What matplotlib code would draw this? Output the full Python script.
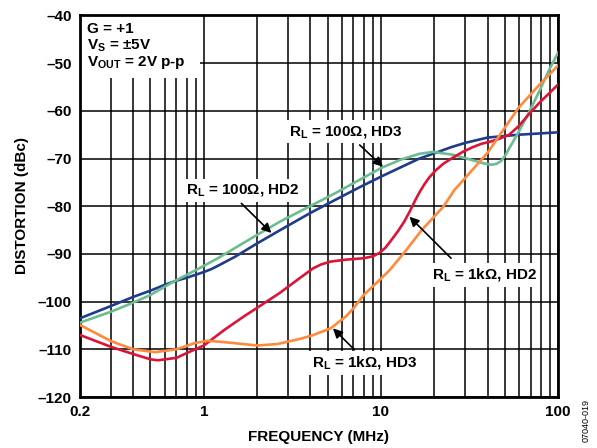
import matplotlib
matplotlib.use("Agg")
import matplotlib.pyplot as plt
from matplotlib.patches import Rectangle
from matplotlib.ticker import FixedLocator, NullFormatter

plt.rcParams['font.family'] = ['Liberation Sans', 'DejaVu Sans']
plt.rcParams['font.weight'] = 'bold'
plt.rcParams['mathtext.fontset'] = 'custom'
plt.rcParams['mathtext.rm'] = 'Liberation Sans:bold'
plt.rcParams['mathtext.it'] = 'Liberation Sans:bold'
plt.rcParams['mathtext.bf'] = 'Liberation Sans:bold'

# ---- data (frequency in MHz, distortion in dBc) ----
f_100_hd2 = [0.2, 0.3, 0.4, 0.5, 0.6, 0.7, 0.8, 1.0, 1.1, 1.2, 1.5, 2.0, 2.7, 4.0, 5.5, 7.5,
             10, 13, 16.5, 20, 25, 30, 40, 60, 100]
d_100_hd2 = [-103.5, -100.9, -99.0, -97.7, -96.5, -95.6, -95.0, -93.8, -93.2, -92.5, -90.6,
             -87.8, -85.0, -81.4, -78.7, -76.1, -73.8, -71.8, -70.0, -68.9, -67.6, -66.7,
             -65.6, -65.0, -64.5]

f_100_hd3 = [0.2, 0.3, 0.4, 0.5, 0.6, 0.7, 0.8, 1.0, 1.2, 2.0, 2.7, 5.5, 10, 13, 16.5, 19.7,
             25.5, 33, 38, 42, 45, 47.8, 50.5, 53.3, 56.5, 60, 69, 78.6, 88.3, 100]
d_100_hd3 = [-104.4, -102.1, -100.2, -98.6, -96.9, -95.5, -94.4, -92.5, -90.9, -86.0,
             -83.2, -77.3, -72.0, -70.2, -69.0, -68.6, -69.2, -70.35, -71.0, -71.3, -71.1,
             -70.5, -69.3, -67.7, -66.1, -64.4, -60.1, -55.8, -51.7, -47.8]

f_1k_hd2 = [0.2, 0.3, 0.4, 0.5, 0.55, 0.7, 0.8, 1.0, 1.31, 1.7, 2.0, 2.68, 3.5, 4.15, 4.6,
            5.2, 6.35, 8.0, 9.0, 9.8, 10.6, 11.4, 12.5, 13.5, 14.5, 15.5, 16.5, 17.6, 18.8,
            20.5, 22.5, 25, 29, 33, 37, 42, 47, 53, 60, 70, 79, 100]
d_1k_hd2 = [-107.0, -109.5, -111.0, -112.1, -112.3, -111.8, -110.8, -109.2, -105.9,
            -103.0, -101.3, -98.2, -95.0, -93.0, -92.2, -91.6, -91.2, -90.9, -90.5, -89.8,
            -88.7, -87.2, -85.2, -83.3, -81.2, -79.0, -77.1, -75.4, -73.9, -72.4, -71.1,
            -70.0, -68.6, -67.6, -66.9, -66.4, -65.8, -65.0, -63.2, -60.3, -58.2, -54.5]

f_1k_hd3 = [0.2, 0.3, 0.4, 0.53, 0.7, 0.89, 1.05, 1.31, 2.0, 2.6, 3.5, 4.15, 5.2, 6.35,
            7.0, 8.0, 9.0, 9.8, 11.2, 13.9, 17.0, 22.5, 26, 40, 60, 78.6, 100]
d_1k_hd3 = [-104.9, -108.3, -110.0, -110.6, -110.0, -108.7, -108.2, -108.5, -109.2,
            -108.9, -107.8, -107.0, -105.6, -103.1, -101.4, -98.6, -96.8, -95.5, -93.4,
            -89.2, -85.0, -80.1, -76.6, -68.8, -59.3, -54.5, -50.5]

x_ticks = [0.2, 1, 10, 100]
x_tick_labels = ['0.2', '1', '10', '100']
y_ticks = [-120, -110, -100, -90, -80, -70, -60, -50, -40]
y_tick_labels = ['–120', '–110', '–100', '–90', '–80', '–70', '–60', '–50', '–40']

c_blue = '#1f3c8c'
c_green = '#6cbc92'
c_red = '#dc1437'
c_orange = '#ff8a3d'

fig = plt.figure(figsize=(5.97, 4.48), dpi=100)
ax = fig.add_axes([80 / 597, 1 - 397 / 448, (558 - 80) / 597, (397 - 15.5) / 448])
ax.set_xscale('log')
ax.set_xlim(0.2, 100)
ax.set_ylim(-120, -40)

minor = [m * 10 ** e for e in (-1, 0, 1) for m in range(2, 10)]
minor = [v for v in minor if 0.2 < v < 100]
ax.xaxis.set_major_locator(FixedLocator(x_ticks))
ax.xaxis.set_minor_locator(FixedLocator(minor))
ax.xaxis.set_minor_formatter(NullFormatter())
ax.set_xticklabels(x_tick_labels)
ax.set_yticks(y_ticks)
ax.set_yticklabels(y_tick_labels)
ax.tick_params(which='both', length=0, labelsize=11, pad=6)
for lab in ax.get_xticklabels() + ax.get_yticklabels():
    lab.set_fontweight('bold')

ax.set_axisbelow(True)
ax.grid(True, which='major', color='black', lw=1.1)
ax.grid(True, which='minor', axis='x', color='black', lw=1.1)
for s in ax.spines.values():
    s.set_linewidth(2)

# white box behind the conditions text
ax.add_patch(Rectangle((0.2, -53.2), 0.95 - 0.2, 13.2, facecolor='white',
                       edgecolor='none', zorder=1))

lw = 1.9
ax.plot(f_100_hd2, d_100_hd2, color=c_blue, lw=lw, zorder=3)
ax.plot(f_100_hd3, d_100_hd3, color=c_green, lw=lw, zorder=3)
ax.plot(f_1k_hd2, d_1k_hd2, color=c_red, lw=lw, zorder=3)
ax.plot(f_1k_hd3, d_1k_hd3, color=c_orange, lw=lw, zorder=3)

fs = 11
ax.text(0.219, -42.8, 'G = +1', fontsize=fs, fontweight='bold', va='center', ha='left', zorder=5)
ax.text(0.219, -46.3, r'$\mathrm{V_S}$ = ±5V', fontsize=fs, fontweight='bold', va='center',
        ha='left', zorder=5)
ax.text(0.219, -49.8, r'$\mathrm{V_{OUT}}$ = 2V p-p', fontsize=fs, fontweight='bold',
        va='center', ha='left', zorder=5)

bbox = dict(facecolor='white', edgecolor='none', pad=2.5)
arrow = dict(arrowstyle='-|>', color='black', lw=1.2, mutation_scale=14, shrinkA=0, shrinkB=0)

def label(text, tx, ty, ax_, ay_, atx, aty):
    ax.text(tx, ty, text, fontsize=fs, fontweight='bold', ha='center', va='center',
            bbox=bbox, zorder=5)
    ax.annotate('', xy=(ax_, ay_), xytext=(atx, aty), arrowprops=arrow, zorder=6)

label(r'$\mathrm{R_L}$ = 100Ω, HD3', 6.35, -64.4, 10.27, -71.7, 7.59, -67.15)
label(r'$\mathrm{R_L}$ = 100Ω, HD2', 1.67, -76.6, 2.41, -85.6, 1.63, -79.4)
label(r'$\mathrm{R_L}$ = 1kΩ, HD2', 38.4, -94.4, 14.5, -82.2, 24.9, -90.9)
label(r'$\mathrm{R_L}$ = 1kΩ, HD3', 8.1, -112.85, 5.36, -105.6, 7.1, -110.1)

fig.text(319 / 597, 1 - 437 / 448, 'FREQUENCY (MHz)', ha='center', va='center',
         fontsize=11, fontweight='bold')
fig.text(22 / 597, 1 - 206 / 448, 'DISTORTION (dBc)', ha='center', va='center',
         rotation=90, fontsize=11, fontweight='bold')
fig.text(586 / 597, 1 - 420 / 448, '07040-019', ha='center', va='center', rotation=90,
         fontsize=6.5, fontweight='normal')

fig.savefig('out.png', dpi=100)
